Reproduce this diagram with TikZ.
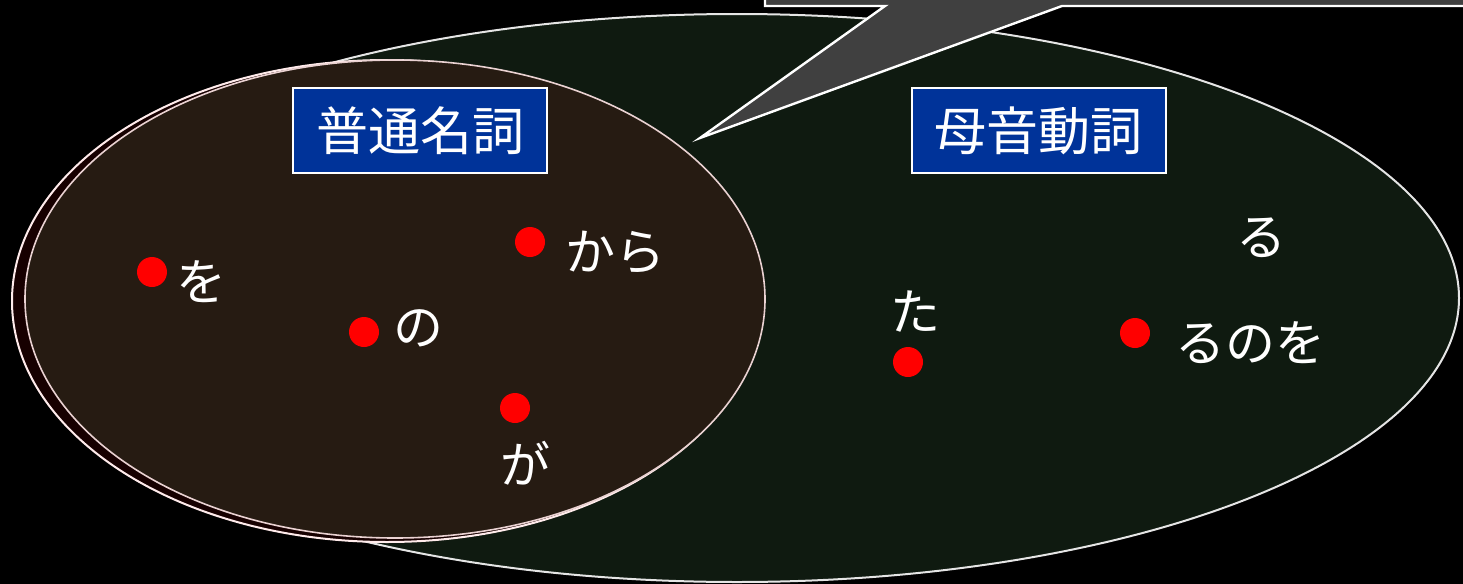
\documentclass[tikz,border=0pt]{standalone}
\usepackage{fontspec}
\newfontfamily\jp{Noto Sans CJK JP}
\definecolor{bggreen}{HTML}{0F1A10}
\definecolor{bgbrown}{HTML}{261B12}
\definecolor{bgred}{HTML}{170000}
\definecolor{labelblue}{HTML}{003399}
\definecolor{bubblegray}{HTML}{404040}
\definecolor{rimpink}{HTML}{EAD2D2}
\begin{document}
\begin{tikzpicture}[x=0.5pt,y=-0.5pt,
  rim/.style={line width=1pt},
  dot/.style={circle,fill=red,draw=none,minimum size=15pt,inner sep=0pt},
  word/.style={text=white,font=\jp\fontsize{25pt}{25pt}\selectfont,inner sep=0pt},
  tag/.style={fill=labelblue,draw=white,line width=1pt,text=white,
    font=\jp\fontsize{26pt}{26pt}\selectfont,minimum width=127pt,minimum height=42.5pt,inner sep=0pt}]
\useasboundingbox (0,0) rectangle (1463,584);
\clip (0,0) rectangle (1463,584);
\fill[black] (0,0) rectangle (1463,584);
% ellipses
\draw[rim,fill=bggreen,draw=white!90!black] (737,298) ellipse [x radius=722, y radius=284];
\draw[rim,fill=bgred,draw=white!92!red] (387,301) ellipse [x radius=375, y radius=241];
\draw[line width=0.8pt,fill=bgbrown,draw=rimpink] (395,299) ellipse [x radius=370, y radius=239];
% speech bubble
\draw[line width=1.2pt,fill=bubblegray,draw=white,line join=miter]
  (765,-30) -- (765,6) -- (885,6) -- (700,138) -- (1062,6) -- (1500,6) -- (1500,-30) -- cycle;
% labels
\node[tag] (futsu) at (420,130.5) {普通名詞};
\node[tag] (boin) at (1038.5,130.5) {母音動詞};
% dots
\node[dot] (dwo) at (152,272) {};
\node[dot] (dno) at (364,332) {};
\node[dot] (dkara) at (530,242) {};
\node[dot] (dga) at (515,408) {};
\node[dot] (dta) at (908,362) {};
\node[dot] (drunowo) at (1135,333) {};
% words
\node[word] (wo) at (201,282) {を};
\node[word] (no) at (418,328) {の};
\node[word] (kara) at (615,252) {から};
\node[word] (ga) at (525,463) {が};
\node[word] (ta) at (915,312) {た};
\node[word] (ru) at (1261,238) {る};
\node[word] (runowo) at (1250,343) {るのを};
\end{tikzpicture}
\end{document}
